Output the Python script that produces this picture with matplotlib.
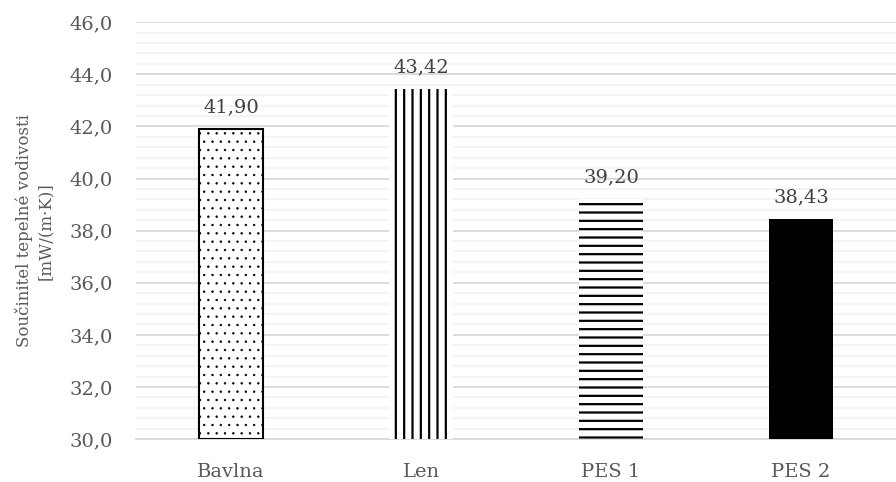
import matplotlib.pyplot as plt
import numpy as np
from matplotlib.ticker import MultipleLocator

plt.rcParams['font.family'] = ['DejaVu Serif']

categories = ['Bavlna', 'Len', 'PES 1', 'PES 2']
values = [41.90, 43.42, 39.20, 38.43]
labels = ['41,90', '43,42', '39,20', '38,43']
hatches = ['..', '||', '--', None]
hatch_lw = [0.5, 1.6, 1.6, 1.0]
faces = ['white', 'white', 'white', 'black']
edge_widths = [1.5, 0, 0, 0]

txt = '#595959'

fig = plt.figure(figsize=(8.96, 4.82), dpi=100)
ax = fig.add_axes([0.152, 0.089, 0.848, 0.865])

x = np.arange(len(categories))
ymin = 30
for i in range(len(categories)):
    with plt.rc_context({'hatch.linewidth': hatch_lw[i]}):
        ax.bar(x[i], values[i] - ymin, bottom=ymin, width=0.34, color=faces[i],
               edgecolor='black', linewidth=edge_widths[i], hatch=hatches[i], zorder=3)
    ax.text(x[i], values[i] + 0.5, labels[i], ha='center', va='bottom',
            fontsize=14, color='#404040')

ax.set_ylim(30, 46)
ax.set_xlim(-0.5, 3.5)
ax.yaxis.set_minor_locator(MultipleLocator(0.4))
ax.set_yticks(np.arange(30, 46.1, 2))
ax.set_yticklabels([f'{v:.1f}'.replace('.', ',') for v in np.arange(30, 46.1, 2)])
ax.set_xticks(x)
ax.set_xticklabels(categories)

ax.grid(axis='y', which='major', color='#d9d9d9', linewidth=1.3, zorder=0)
ax.grid(axis='y', which='minor', color='#f2f2f2', linewidth=1.2, zorder=0)
for s in ['top', 'right', 'left']:
    ax.spines[s].set_visible(False)
ax.spines['bottom'].set_color('#d9d9d9')
ax.spines['bottom'].set_linewidth(1.3)
ax.tick_params(axis='both', which='both', length=0, labelsize=14, colors=txt)
ax.tick_params(axis='x', pad=17)
ax.tick_params(axis='y', pad=17)

ax.set_ylabel('Součinitel tepelné vodivosti\n[mW/(m·K)]', fontsize=12,
              color=txt, linespacing=1.3)
ax.yaxis.set_label_coords(-0.108, 0.5)

fig.savefig('out.png', dpi=100)
